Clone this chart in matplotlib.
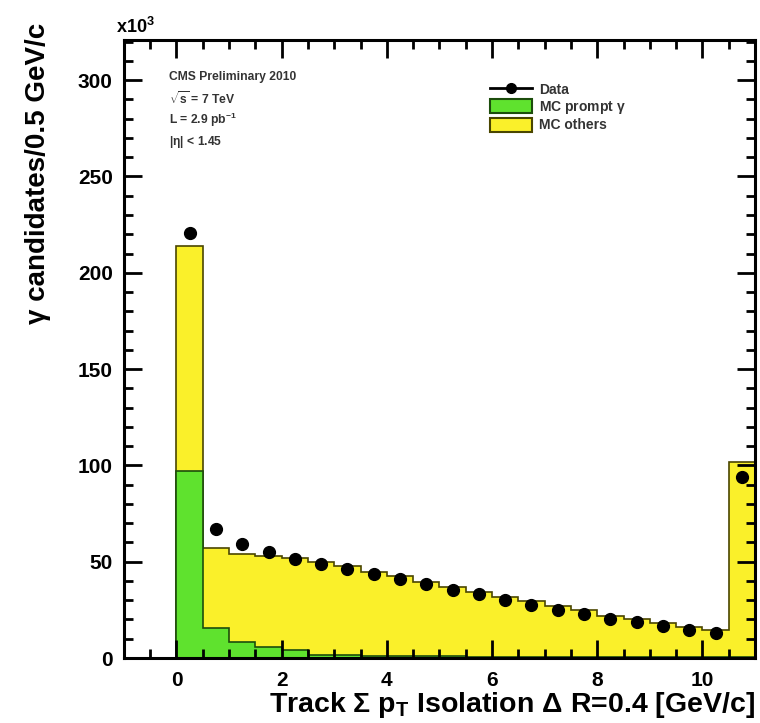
import matplotlib
matplotlib.use("Agg")
import matplotlib.pyplot as plt
from matplotlib.lines import Line2D
from matplotlib.patches import Patch
from matplotlib.ticker import MultipleLocator
import numpy as np

# ---- data (values in units of 10^3) ----
bin_edges = [0.0, 0.5, 1.0, 1.5, 2.0, 2.5, 3.0, 3.5, 4.0, 4.5, 5.0, 5.5,
             6.0, 6.5, 7.0, 7.5, 8.0, 8.5, 9.0, 9.5, 10.0, 10.5, 11.0]
mc_total = [214, 57, 54, 53, 52, 49.8, 47.7, 44.8, 42.5, 39.6, 37, 34.4,
            31.8, 29.6, 27, 25, 22, 20, 18, 16.3, 14.5, 102]
mc_prompt = [97, 15.5, 8.5, 5.5, 4.0, 1.5, 1.3, 1.1, 1.0, 0.9, 0.8, 0.7,
             0.6, 0.5, 0.5, 0.4, 0.4, 0.3, 0.3, 0.3, 0.3, 0.3]
data_x = [0.25, 0.75, 1.25, 1.75, 2.25, 2.75, 3.25, 3.75, 4.25, 4.75, 5.25,
          5.75, 6.25, 6.75, 7.25, 7.75, 8.25, 8.75, 9.25, 9.75, 10.25, 10.75]
data_y = [220.5, 66.8, 59.0, 54.9, 51.2, 48.8, 46.4, 43.6, 40.8, 38.4, 35.3,
          33.1, 30.1, 27.5, 24.9, 22.7, 20.2, 18.5, 16.6, 14.5, 13.1, 93.8]
x_ticks = [0, 2, 4, 6, 8, 10]
y_ticks = [0, 50, 100, 150, 200, 250, 300]

plt.rcParams['font.family'] = ['Liberation Sans', 'DejaVu Sans']
plt.rcParams['mathtext.fontset'] = 'custom'
plt.rcParams['mathtext.rm'] = 'Liberation Sans:bold'
plt.rcParams['mathtext.it'] = 'Liberation Sans:bold'
plt.rcParams['mathtext.bf'] = 'Liberation Sans:bold'

yellow = '#faf02a'
yellow_edge = '#4a4600'
green = '#5fe22e'
green_edge = '#1c4d0c'

fig = plt.figure(figsize=(7.6, 7.23), dpi=100)
ax = fig.add_axes([0.163, 0.0899, 0.8304, 0.8541])

ax.stairs(mc_total, bin_edges, fill=True, facecolor=yellow,
          edgecolor=yellow_edge, linewidth=1.2, baseline=0)
ax.stairs(mc_prompt, bin_edges, fill=True, facecolor=green,
          edgecolor=green_edge, linewidth=1.2, baseline=0)
ax.plot(data_x, data_y, 'o', color='black', markersize=8.5, zorder=5)

ax.set_xlim(-1, 11)
ax.set_ylim(0, 320.6)

ax.set_xticks(x_ticks)
ax.set_yticks(y_ticks)
ax.xaxis.set_minor_locator(MultipleLocator(0.5))
ax.yaxis.set_minor_locator(MultipleLocator(10))
ax.tick_params(which='both', direction='in', top=True, right=True,
               labelsize=15, width=2.0)
ax.tick_params(axis='x', which='both', pad=9)
ax.tick_params(axis='y', which='both', pad=8)
ax.tick_params(which='major', length=13)
ax.tick_params(which='minor', length=6.5)
for lab in ax.get_xticklabels() + ax.get_yticklabels():
    lab.set_fontweight('bold')
for s in ax.spines.values():
    s.set_linewidth(2.2)

ax.set_xlabel(r'Track $\Sigma$ p$_\mathregular{T}$ Isolation $\Delta$ R=0.4 [GeV/c]',
              fontsize=20.5, fontweight='bold', loc='right', labelpad=0)
ax.set_ylabel('γ candidates/0.5 GeV/c', fontsize=20, fontweight='bold',
              loc='top')
ax.yaxis.set_label_coords(-0.116, 1.028)

ax.text(-0.012, 1.005, r'x10$^3$', transform=ax.transAxes, fontsize=13,
        fontweight='bold', ha='left', va='bottom')

info = ['CMS Preliminary 2010', r'$\sqrt{s}$ = 7 TeV',
        r'L = 2.9 pb$^{-1}$', r'|$\eta$| < 1.45']
for i, t in enumerate(info):
    ax.text(0.072, 0.941 - i * 0.035, t, transform=ax.transAxes,
            fontsize=8.7, fontweight='bold', color='#333333',
            ha='left', va='center')

handles = [Line2D([0], [0], color='black', marker='o', markersize=7,
                  linewidth=2),
           Patch(facecolor=green, edgecolor=green_edge, linewidth=1.5),
           Patch(facecolor=yellow, edgecolor=yellow_edge, linewidth=1.5)]
labels = ['Data', r'MC prompt $\gamma$', 'MC others']
leg = ax.legend(handles, labels, loc='upper left',
                bbox_to_anchor=(0.565, 0.949), frameon=False,
                fontsize=10, handlelength=3.0, handleheight=1.2,
                labelspacing=0.15, handletextpad=0.5, borderpad=0.2)
for t in leg.get_texts():
    t.set_fontweight('bold')
    t.set_color('#333333')

fig.savefig('out.png', dpi=100)
